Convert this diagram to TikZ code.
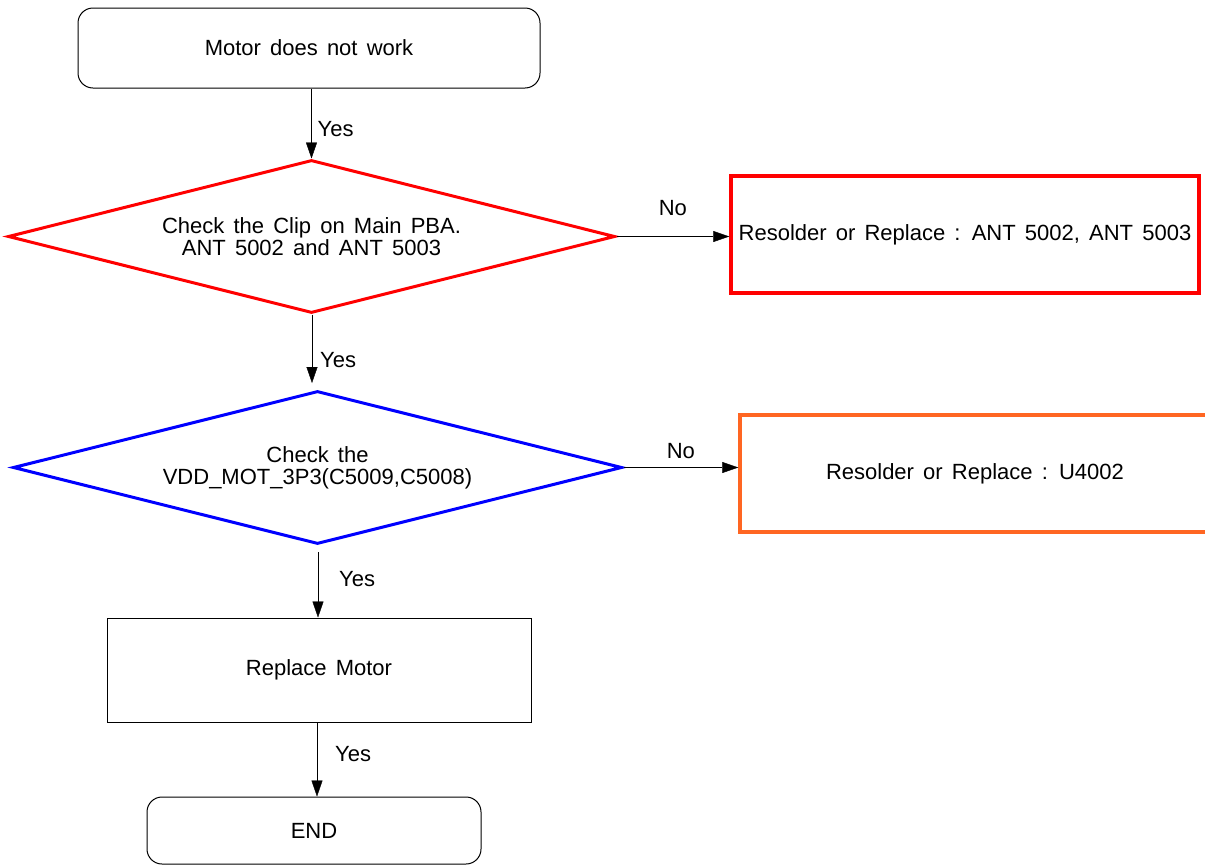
\documentclass[tikz,border=0pt]{standalone}
\usepackage{fontspec}
\setmainfont[WordSpace=1.5]{Liberation Sans}
\usetikzlibrary{shapes.geometric,arrows.meta}

\definecolor{fixorange}{RGB}{255,102,34}

\tikzset{
  base/.style={draw,line width=1pt,inner sep=0pt,align=center,
    font=\fontsize{22}{22}\selectfont},
  startbox/.style={base,rectangle,rounded corners=15pt},
  plainbox/.style={base,rectangle},
  check/.style={base,diamond,line width=3pt,aspect=4},
  fixbox/.style={base,rectangle,line width=3.5pt},
  lbl/.style={font=\fontsize{22}{22}\selectfont,inner sep=0pt}
}

\begin{document}
\begin{tikzpicture}[x=1pt,y=-1pt,>={Triangle[length=16pt,width=11pt]}]
\useasboundingbox (0,0) rectangle (1205,865);
\clip (0,0) rectangle (1205,865);

\node[startbox,minimum width=462,minimum height=80] (start) at (309,48) {Motor does not work};

\node[check,draw=red,minimum width=607,minimum height=153] (clip) at (311.5,236.5)
  {Check the Clip on Main PBA.\\ANT 5002 and ANT 5003};
\node[fixbox,draw=red,minimum width=468,minimum height=117] (ant) at (965,234.5)
  {Resolder or Replace : ANT 5002, ANT 5003};

\node[check,draw=blue,minimum width=609,minimum height=153] (vdd) at (317.5,467.5)
  {Check the\\VDD\_MOT\_3P3(C5009,C5008)};
\node[fixbox,draw=fixorange,minimum width=470,minimum height=117] (u4002) at (975,473.5)
  {Resolder or Replace : U4002};

\node[plainbox,minimum width=424,minimum height=104] (motor) at (319,670) {Replace Motor};
\node[startbox,minimum width=334,minimum height=67] (end) at (314,830.5) {END};

\coordinate (clipout) at (312,383);
\coordinate (vddout) at (318,552);

% yes branch
\draw[->] (start.south -| clip.north) -- (clip.north)
  node[lbl,pos=0.58,right=6pt] {Yes};
\draw[->] (clip.south -| clipout) -- (clipout)
  node[lbl,pos=0.66,right=8pt] {Yes};
\draw[->] (vddout) -- (vddout |- motor.north)
  node[lbl,pos=0.42,right=21pt] {Yes};
\draw[->] (motor.south -| 317,0) -- (317,0 |- end.north)
  node[lbl,pos=0.43,right=18pt] {Yes};

% no branch
\draw[->] (clip.east) -- (clip.east -| ant.west)
  node[lbl,midway,above=21pt] {No};
\draw[->] (vdd.east) -- (vdd.east -| u4002.west)
  node[lbl,midway,above=9pt] {No};
\end{tikzpicture}
\end{document}
